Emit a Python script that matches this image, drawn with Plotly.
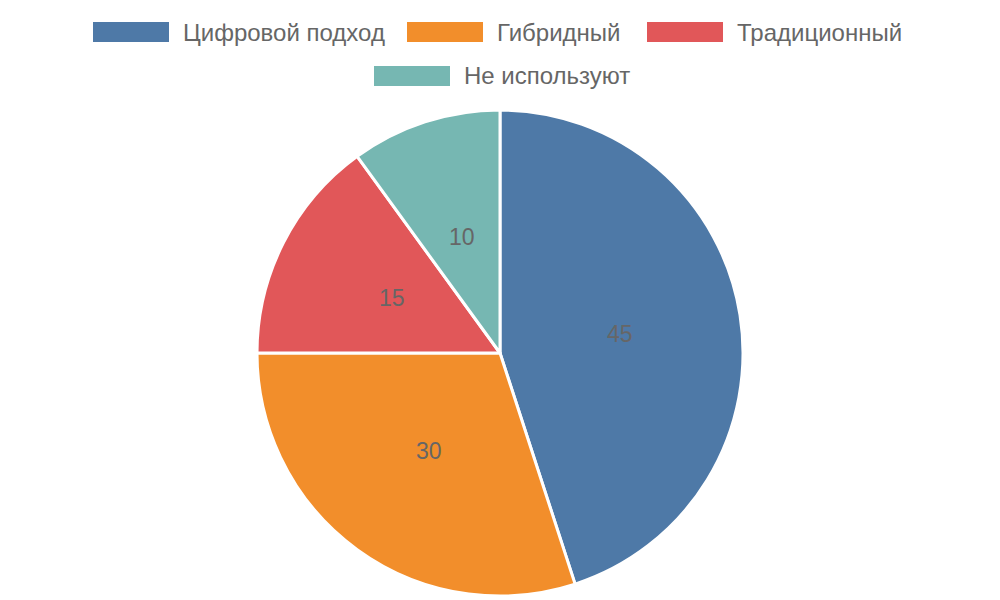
import math
import plotly.graph_objects as go

categories = ["Цифровой подход", "Гибридный", "Традиционный", "Не используют"]
values = [45, 30, 15, 10]
colors = ["#4e79a7", "#f28e2b", "#e15759", "#76b7b2"]

W, H = 1000, 600
OFF = 8  # page body margin offset of the rendered figure
FONT = "Liberation Sans, Arial, sans-serif"
TXT = "#666666"

# pie geometry in screen pixels
CX, CY, R = 500, 353, 243


def px_x(x):
    return (x - OFF) / W


def px_y(y):
    return 1 - (y - OFF) / H


fig = go.Figure(go.Pie(
    labels=categories,
    values=values,
    sort=False,
    direction="clockwise",
    rotation=0,
    marker=dict(colors=colors, line=dict(color="#ffffff", width=3)),
    textinfo="none",
    domain=dict(x=[px_x(CX - R), px_x(CX + R)], y=[px_y(CY + R), px_y(CY - R)]),
    showlegend=False,
    hoverinfo="label+value+percent",
))

annotations, shapes = [], []

# value labels at half radius, at each slice's mid angle (clockwise from top)
total = sum(values)
cum = 0
for v in values:
    mid = (cum + v / 2) / total * 2 * math.pi
    cum += v
    lx = CX + 0.5 * R * math.sin(mid)
    ly = CY - 0.5 * R * math.cos(mid)
    annotations.append(dict(xref="paper", yref="paper", x=px_x(lx), y=px_y(ly),
                            text=str(v), showarrow=False, xanchor="center", yanchor="middle",
                            font=dict(family=FONT, size=23, color=TXT)))

# custom legend (swatch left px, row center y px)
legend_pos = [(93, 32), (407, 32), (647, 32), (374, 76)]
for (lx, cy), name, col in zip(legend_pos, categories, colors):
    shapes.append(dict(type="rect", xref="paper", yref="paper",
                       x0=px_x(lx), x1=px_x(lx + 76),
                       y0=px_y(cy + 10), y1=px_y(cy - 10),
                       fillcolor=col, line=dict(width=0)))
    annotations.append(dict(xref="paper", yref="paper", x=px_x(lx + 88), y=px_y(cy),
                            text=name, showarrow=False, xanchor="left", yanchor="middle",
                            font=dict(family=FONT, size=24, color=TXT)))

fig.update_layout(
    width=W, height=H,
    margin=dict(l=0, r=0, t=0, b=0),
    paper_bgcolor="#ffffff",
    plot_bgcolor="#ffffff",
    shapes=shapes,
    annotations=annotations,
)

fig.write_html("out.html")
